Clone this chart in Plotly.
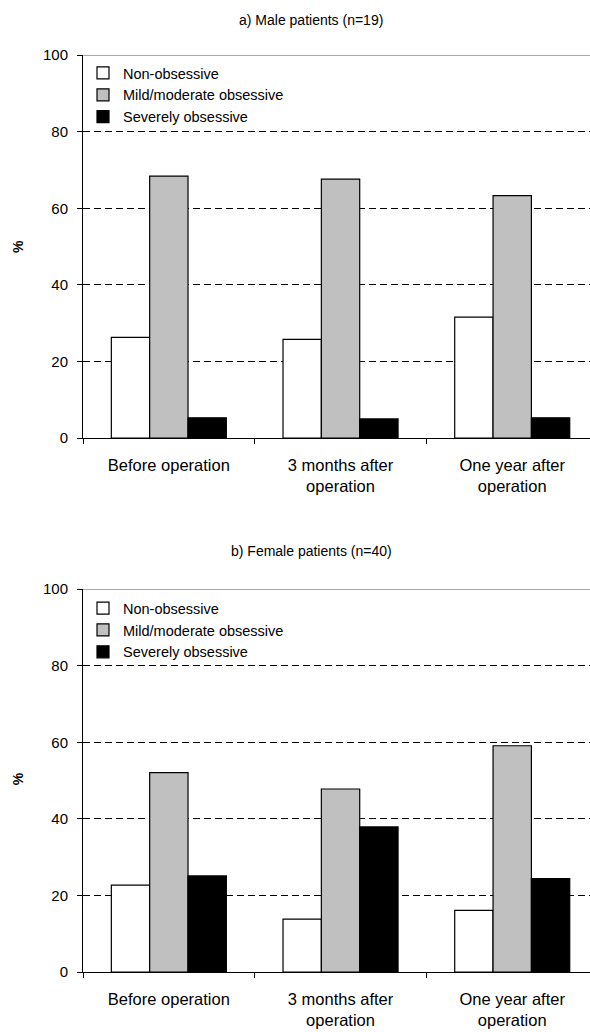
import plotly.graph_objects as go

categories = ["Before operation", "3 months after<br>operation", "One year after<br>operation"]
series_names = ["Non-obsessive", "Mild/moderate obsessive", "Severely obsessive"]
series_colors = ["#FFFFFF", "#C0C0C0", "#000000"]

male_non = [26.3, 25.8, 31.6]
male_mild = [68.4, 67.6, 63.3]
male_severe = [5.3, 5.0, 5.3]

female_non = [22.7, 13.8, 16.1]
female_mild = [52.1, 47.8, 59.1]
female_severe = [25.1, 37.9, 24.4]

y_ticks = [0, 20, 40, 60, 80, 100]
panel_titles = ["a) Male patients (n=19)", "b) Female patients (n=40)"]

FONT = "Liberation Sans, Arial, sans-serif"

fig = go.Figure()

panels = [
    ("x", "y", "legend", [male_non, male_mild, male_severe]),
    ("x2", "y2", "legend2", [female_non, female_mild, female_severe]),
]
for xa, ya, lg, vals in panels:
    for name, color, v in zip(series_names, series_colors, vals):
        fig.add_trace(go.Bar(
            x=categories, y=v, name=name, xaxis=xa, yaxis=ya, legend=lg,
            marker=dict(color=color, line=dict(color="#000000", width=1.2)),
            hoverinfo="skip",
        ))

W, H = 590, 1032
ml, mt = 83, 55
mb = H - 971.7
plot_h = H - mt - mb
plot_w = W - ml


def py(pix):
    return (H - mb - pix) / plot_h


def px(pix):
    return (pix - ml) / plot_w


xaxis_common = dict(
    type="category", range=[-0.5, 2.453], showline=True, linecolor="#000000", linewidth=1,
    ticks="outside", tickson="boundaries", ticklen=5, tickcolor="#000000",
    tickfont=dict(family=FONT, size=16.5, color="#000000"), showgrid=False,
    ticklabelstandoff=12, fixedrange=True,
)
yaxis_common = dict(
    range=[0, 100], tickvals=y_ticks, showline=True, linecolor="#000000", linewidth=1,
    ticks="outside", ticklen=5, tickcolor="#000000",
    tickfont=dict(family=FONT, size=15, color="#000000"),
    showgrid=True, gridcolor="#000000", gridwidth=1, griddash="7px,4px",
    zeroline=False, ticklabelstandoff=6, fixedrange=True,
)

legend_common = dict(
    xanchor="left", yanchor="top",
    font=dict(family=FONT, size=14.5, color="#000000"),
    bgcolor="rgba(0,0,0,0)", borderwidth=0, tracegroupgap=0,
)

fig.update_layout(
    width=W, height=H,
    margin=dict(l=ml, r=0, t=mt, b=mb, autoexpand=False),
    paper_bgcolor="#FFFFFF", plot_bgcolor="#FFFFFF",
    barmode="group", bargap=0.33, bargroupgap=0,
    font=dict(family=FONT, color="#000000"),
    xaxis=dict(domain=[0, 1], anchor="y", **xaxis_common),
    yaxis=dict(domain=[py(438), 1], anchor="x", **yaxis_common),
    xaxis2=dict(domain=[0, 1], anchor="y2", **xaxis_common),
    yaxis2=dict(domain=[0, py(589)], anchor="x2", **yaxis_common),
    legend=dict(x=px(83), y=py(57), **legend_common),
    legend2=dict(x=px(83), y=py(592), **legend_common),
    showlegend=True,
)

# solid top frame line at 100
for yref in ["y", "y2"]:
    fig.add_shape(type="line", xref="paper", yref=yref, x0=0, x1=1, y0=100, y1=100,
                  line=dict(color="#8C8C8C", width=1.6), layer="above")

# panel titles and % labels
for title, ypix in [(panel_titles[0], 20), (panel_titles[1], 551)]:
    fig.add_annotation(text=title, xref="paper", yref="paper", x=px(311), y=py(ypix),
                       xanchor="center", yanchor="middle", showarrow=False,
                       font=dict(family=FONT, size=14, color="#000000"))
for ypix in [247, 779]:
    fig.add_annotation(text="<b>%</b>", xref="paper", yref="paper", x=px(18), y=py(ypix),
                       xanchor="center", yanchor="middle", showarrow=False, textangle=-90,
                       font=dict(family=FONT, size=14, color="#000000"))

fig.write_html("out.html", config={"displayModeBar": False},
               post_script="document.body.style.margin='0';document.body.style.overflow='hidden';")
